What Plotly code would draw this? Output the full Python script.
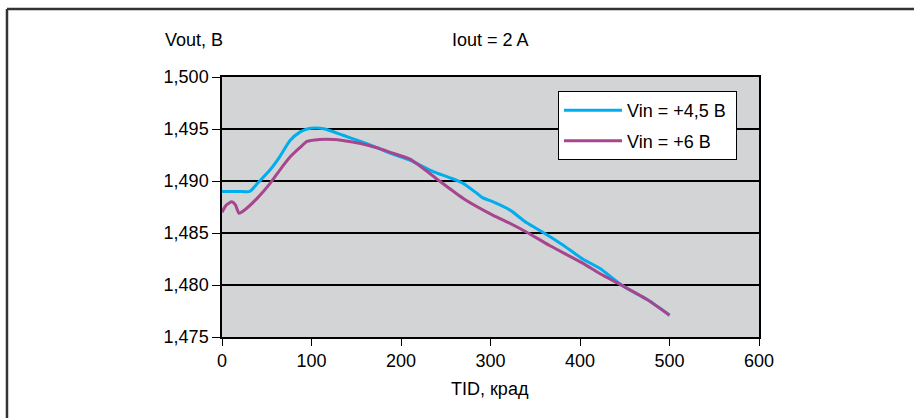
import plotly.graph_objects as go

# TID, krad
x_45 = [0, 10, 20, 31, 40, 54, 65, 76, 87, 95, 104, 115, 135, 155, 173, 190, 210,
        236, 255, 269, 285, 291, 303, 322, 340, 358, 380, 403, 422, 448, 475, 500]
v_45 = [1.4890, 1.4890, 1.4890, 1.4890, 1.4898, 1.4911, 1.4924, 1.4939, 1.4947, 1.4950,
        1.4951, 1.4950, 1.4944, 1.4938, 1.4932, 1.4926, 1.4920,
        1.4909, 1.4903, 1.4898, 1.4888, 1.4884, 1.4880, 1.4872, 1.4860, 1.4851, 1.4839,
        1.4825, 1.4816, 1.4799, 1.4786, 1.4771]

x_6 = [0, 5, 11, 15, 19, 25, 40, 54, 65, 76, 87, 95, 109, 125, 135, 155, 173, 190,
       210, 225, 243, 270, 303, 320, 340, 366, 403, 422, 448, 475, 500]
v_6 = [1.4870, 1.4877, 1.4880, 1.4877, 1.4869, 1.4872, 1.4884, 1.4898, 1.4911, 1.4923,
       1.4932, 1.4938, 1.4940, 1.4940, 1.4939, 1.4936, 1.4932, 1.4927,
       1.4921, 1.4912, 1.4900, 1.4883, 1.4867, 1.4860, 1.4851, 1.4838, 1.4821, 1.4811,
       1.4799, 1.4786, 1.4771]

names = ["Vin = +4,5 B\u00a0", "Vin = +6 B"]
colors = ["#00aeef", "#a6468f"]

x_ticks = [0, 100, 200, 300, 400, 500, 600]
y_ticks = [1.475, 1.480, 1.485, 1.490, 1.495, 1.500]

FONT = "Liberation Sans, Arial, sans-serif"
FS = 18

fig = go.Figure()
for xs, ys, nm, c in [(x_45, v_45, names[0], colors[0]), (x_6, v_6, names[1], colors[1])]:
    fig.add_trace(go.Scatter(x=xs, y=ys, mode="lines", name=nm, legendgroup=nm,
                             line=dict(color=c, width=3, shape="spline", smoothing=0.6)))

fig.update_layout(
    width=916, height=418,
    margin=dict(l=222, r=157, t=77, b=81),
    paper_bgcolor="white",
    plot_bgcolor="#d3d4d6",
    separators=", ",
    font=dict(family=FONT, size=FS, color="black"),
    showlegend=True,
    legend=dict(x=0.6257, y=0.946, xanchor="left", yanchor="top",
                bgcolor="white", bordercolor="black", borderwidth=1,
                font=dict(family=FONT, size=FS, color="black"),
                traceorder="grouped", tracegroupgap=4, itemwidth=58),
    xaxis=dict(range=[0, 600], tickvals=x_ticks, showgrid=False, zeroline=False,
               showline=True, linecolor="black", linewidth=1.5, mirror=True,
               ticks="outside", ticklen=7, tickcolor="black", tickwidth=1,
               tickfont=dict(family=FONT, size=FS)),
    yaxis=dict(range=[1.475, 1.500], tickvals=y_ticks, tickformat=".3f",
               showgrid=True, gridcolor="black", gridwidth=1.5, zeroline=False,
               showline=True, linecolor="black", linewidth=1.5, mirror=True,
               ticks="outside", ticklen=8, tickcolor="black", tickwidth=1,
               tickfont=dict(family=FONT, size=FS)),
    annotations=[
        dict(text="Vout, B", x=-0.1099, y=1.1423, xref="paper", yref="paper",
             xanchor="left", yanchor="middle", showarrow=False, font=dict(size=FS)),
        dict(text="Iout = 2 A", x=0.4246, y=1.1423, xref="paper", yref="paper",
             xanchor="left", yanchor="middle", showarrow=False, font=dict(size=FS)),
        dict(text="TID, крад", x=0.499, y=-0.2, xref="paper", yref="paper",
             xanchor="center", yanchor="middle", showarrow=False, font=dict(size=FS)),
    ],
    shapes=[
        dict(type="line", xref="paper", yref="paper", x0=-0.4004, x1=1.2886,
             y0=1.2615, y1=1.2615, line=dict(color="#333333", width=2.5)),
        dict(type="line", xref="paper", yref="paper", x0=-0.4004, x1=-0.4004,
             y0=1.2615, y1=-0.33, line=dict(color="#333333", width=2.5)),
    ],
)

fig.write_html("out.html", config={"displayModeBar": False},
               post_script="document.body.style.margin='0';document.body.style.padding='0';")
